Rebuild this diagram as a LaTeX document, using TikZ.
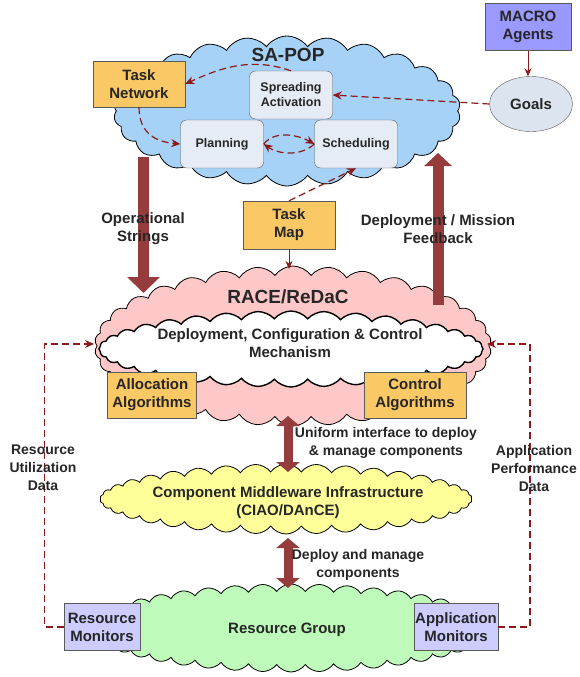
\documentclass[tikz,border=0pt]{standalone}
\usepackage{fontspec}
\setmainfont{Liberation Sans}
\usetikzlibrary{shapes.symbols,shapes.geometric,arrows.meta}

\definecolor{skyfill}{RGB}{166,210,247}
\definecolor{pinkfill}{RGB}{255,200,200}
\definecolor{yellowfill}{RGB}{255,255,153}
\definecolor{greenfill}{RGB}{190,250,185}
\definecolor{orangefill}{RGB}{250,200,100}
\definecolor{violetfill}{RGB}{153,153,255}
\definecolor{lilacfill}{RGB}{204,204,255}
\definecolor{procfill}{RGB}{230,236,246}
\definecolor{goalfill}{RGB}{220,228,240}
\definecolor{darkred}{RGB}{139,26,26}
\definecolor{brickred}{RGB}{150,60,60}
\definecolor{boxline}{RGB}{90,90,90}

\begin{document}
\begin{tikzpicture}[x=1pt,y=-1pt,
    every node/.style={text=black!85},
    cloudy/.style={cloud, draw=black, line width=0.8pt, cloud puffs=#1, cloud puff arc=110, inner sep=0pt},
    bigtxt/.style={font=\fontsize{19}{22}\selectfont\bfseries},
    midtxt/.style={font=\fontsize{15}{18}\selectfont\bfseries, align=center},
    smalltxt/.style={font=\fontsize{14}{18}\selectfont\bfseries, align=center},
    orangebox/.style={draw=boxline, fill=orangefill, midtxt, minimum height=46, inner sep=1pt},
    violetbox/.style={draw=boxline, fill=violetfill, midtxt, minimum height=47, inner sep=1pt},
    lilacbox/.style={draw=boxline, fill=lilacfill, midtxt, minimum height=47, inner sep=1pt},
    procbox/.style={draw=boxline, fill=procfill, rounded corners=6, minimum width=83, minimum height=48,
        align=center, font=\fontsize{12.5}{15}\selectfont\bfseries},
    dasharr/.style={draw=darkred, line width=1.2pt, dash pattern=on 7pt off 4pt, -{Stealth[length=9pt,width=8pt]}},
    solarr/.style={draw=darkred, line width=1pt, -{Stealth[length=8pt,width=7pt]}},
    fatarr/.style={draw=brickred, line width=11pt, -{Triangle[length=16pt,width=32pt]}},
    duoarr/.style={draw=brickred, line width=9pt, {Triangle[length=10pt,width=23pt]}-{Triangle[length=10pt,width=23pt]}}
  ]
  \useasboundingbox (0,0) rectangle (579,677);

  % clouds
  \node[cloudy=26, fill=skyfill, aspect=2.3, minimum width=347, minimum height=150] (sapop) at (287,111) {};
  \node[cloudy=34, fill=pinkfill, aspect=2.5, minimum width=397, minimum height=160] (race) at (293,346) {};
  \node[cloudy=36, fill=white, line width=1.4pt, cloud puff arc=100, aspect=5, minimum width=384, minimum height=76] (dccm) at (291,349) {};
  \node[cloudy=38, fill=yellowfill, aspect=5.4, minimum width=372, minimum height=70] (ciao) at (286,499) {};
  \node[cloudy=44, fill=greenfill, aspect=4.6, minimum width=402, minimum height=88] (rgrp) at (291,628) {};

  \node[bigtxt] (sapopTxt) at (288,55) {SA-POP};
  \node[bigtxt] (raceTxt) at (288,297) {RACE/ReDaC};
  \node[midtxt] (dccmTxt) at (290,343) {Deployment, Configuration \& Control\\Mechanism};
  \node[midtxt] (ciaoTxt) at (288,503) {Component Middleware Infrastructure\\(CIAO/DAnCE)};
  \node[midtxt] (rgrpTxt) at (287,630) {Resource Group};

  % boxes
  \node[orangebox, minimum width=92] (tnet) at (139,84) {Task\\Network};
  \node[violetbox, minimum width=86] (macro) at (528,27) {MACRO\\Agents};
  \node[ellipse, draw=boxline, fill=goalfill, midtxt, minimum width=83, minimum height=55] (goals) at (531,104) {Goals};
  \node[procbox] (spread) at (291,95) {Spreading\\Activation};
  \node[procbox] (plan) at (222,144) {Planning};
  \node[procbox] (sched) at (356,144) {Scheduling};
  \node[orangebox, minimum width=92, minimum height=48] (tmap) at (289,225) {Task\\Map};
  \node[orangebox, minimum width=89] (alloc) at (152,395) {Allocation\\Algorithms};
  \node[orangebox, minimum width=102] (ctrl) at (415,395) {Control\\Algorithms};
  \node[lilacbox, minimum width=76] (rmon) at (102,627) {Resource\\Monitors};
  \node[lilacbox, minimum width=83] (amon) at (456,627) {Application\\Monitors};

  % thick arrows
  \coordinate (opsTop) at (143.5,157);
  \coordinate (opsTip) at (143.5,293);
  \coordinate (fbBot) at (438,305);
  \coordinate (fbTip) at (438,153);
  \coordinate (uniTop) at (288,416);
  \coordinate (uniBot) at (288,472);
  \coordinate (depTop) at (288,538);
  \coordinate (depBot) at (288,588);
  \draw[fatarr] (opsTop) -- (opsTip);
  \draw[fatarr, -{Triangle[length=13pt,width=27pt]}] (fbBot) -- (fbTip);
  \draw[duoarr] (uniTop) -- (uniBot);
  \draw[duoarr] (depTop) -- (depBot);

  % SA-POP flows
  \draw[dasharr] (spread.north) .. controls +(-40,-14) and +(35,-16) .. (tnet.east);
  \draw[dasharr] (tnet.south) .. controls +(0,28) and +(-22,-2) .. (plan.west);
  \draw[dasharr] (plan.east) .. controls +(12,-15) and +(-14,-8) .. (sched.west);
  \draw[dasharr] (sched.west) .. controls +(-14,13) and +(14,10) .. (plan.east);
  \draw[dasharr] (goals.west) -- (spread.east);
  \draw[dasharr] (tmap.north) -- (sched.south);
  \draw[solarr] (macro.south) -- (macro.south |- goals.north);
  \coordinate (raceIn) at (289,269);
  \draw[solarr] (tmap.south) -- (raceIn);

  % monitoring feedback
  \coordinate (ruIn) at (94,344);
  \coordinate (apIn) at (487,344);
  \draw[dasharr] (rmon.west) -- ++(-19,0) |- (ruIn);
  \draw[dasharr] (amon.east) -- ++(32,0) |- (apIn);

  % labels
  \node[midtxt] (opsTxt) at (143,229) {Operational\\Strings};
  \node[midtxt] (fbTxt) at (438,229) {Deployment / Mission\\Feedback};
  \node[smalltxt] (uniTxt) at (386,443) {Uniform interface to deploy\\\& manage components};
  \node[smalltxt] (depTxt) at (358,565) {Deploy and manage\\components};
  \node[smalltxt] (ruTxt) at (43,468) {Resource\\Utilization\\Data};
  \node[smalltxt] (apTxt) at (534,468) {Application\\Performance\\Data};
\end{tikzpicture}
\end{document}
